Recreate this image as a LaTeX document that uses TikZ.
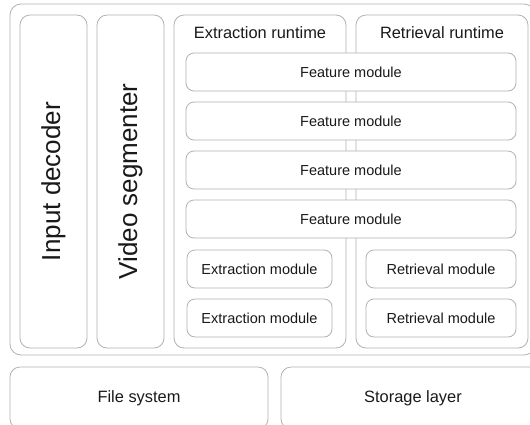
\documentclass[tikz,border=0pt]{standalone}
\usepackage{fontspec}
\setmainfont{Liberation Sans}
\usetikzlibrary{positioning}

\definecolor{boxline}{RGB}{178,178,178}
\definecolor{boxtext}{RGB}{25,25,25}

\tikzset{
	box/.style={draw=boxline, line width=0.8pt, rounded corners=8pt, fill=white, inner sep=0pt, text=boxtext},
	bigbox/.style={box, rounded corners=11pt},
	modbox/.style={box, font=\fontsize{14.5}{17}\selectfont},
	layerbox/.style={box, rounded corners=10pt, font=\fontsize{16.4}{19}\selectfont},
	vertbox/.style={box, rounded corners=10pt, font=\fontsize{26}{30}\selectfont},
	titletext/.style={inner sep=0pt, text=boxtext, font=\fontsize{16.4}{19}\selectfont}
}

\begin{document}
\begin{tikzpicture}[x=1pt, y=-1pt]
	\useasboundingbox (0,0) rectangle (530,424);
	\clip (0,0) rectangle (530,424);
	% processing layer
	\node[bigbox, minimum width=525, minimum height=351] (proc) at (272.5,179.5) {};
	\node[vertbox, minimum width=67, minimum height=333] (decoder) at (53.5,181.5) {\rotatebox{90}{Input decoder}};
	\node[vertbox, minimum width=67, minimum height=333] (segmenter) at (130.5,181.5) {\rotatebox{90}{Video segmenter}};
	% runtimes
	\node[box, rounded corners=10pt, minimum width=172, minimum height=333] (extrt) at (260,181.5) {};
	\node[box, rounded corners=10pt, minimum width=172, minimum height=333] (retrt) at (442,181.5) {};
	\node[titletext, below=12pt of extrt.north] (exttitle) {Extraction runtime};
	\node[titletext, below=12pt of retrt.north] (rettitle) {Retrieval runtime};
	% shared feature modules
	\foreach \i/\y in {1/72,2/121,3/170,4/219}
		\node[modbox, minimum width=330, minimum height=38] (feat\i) at (351,\y) {Feature module};
	\foreach \i/\y in {1/269,2/318} {
		\node[modbox, minimum width=145, minimum height=38] (extmod\i) at (259.5,\y) {Extraction module};
		\node[modbox, minimum width=150, minimum height=38] (retmod\i) at (441,\y) {Retrieval module};
	};
	% bottom layers
	\node[layerbox, minimum width=258, minimum height=62] (files) at (139,398) {File system};
	\node[layerbox, minimum width=264, minimum height=62] (storage) at (413,398) {Storage layer};
\end{tikzpicture}
\end{document}
